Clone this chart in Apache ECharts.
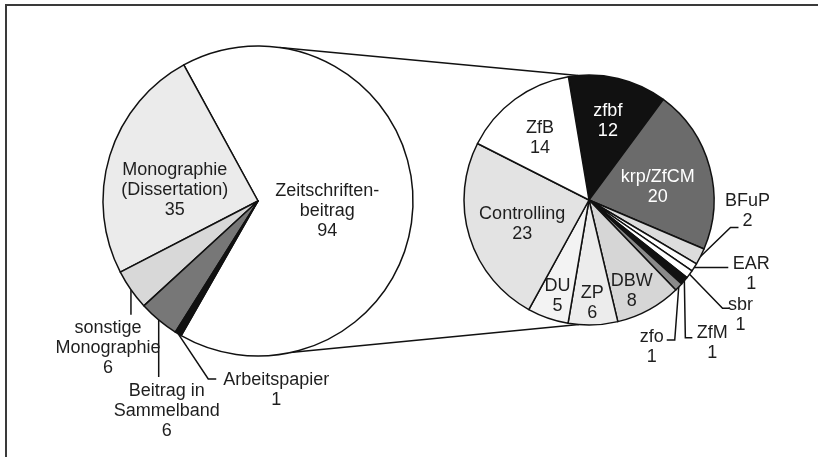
<!DOCTYPE html>
<html><head><meta charset="utf-8">
<script src="https://cdn.jsdelivr.net/npm/echarts@6/dist/echarts.min.js"></script>
<style>html,body{margin:0;padding:0;background:#fff}#c{width:818px;height:457px}</style>
</head><body><div id="c"></div>
<script>
// ---- data ----
const mainCategories = ['Zeitschriften-\nbeitrag', 'Monographie\n(Dissertation)', 'sonstige\nMonographie', 'Beitrag in\nSammelband', 'Arbeitspapier'];
const mainValues = [94, 35, 6, 6, 1];
const journalCategories = ['zfbf', 'krp/ZfCM', 'BFuP', 'EAR', 'sbr', 'ZfM', 'zfo', 'DBW', 'ZP', 'DU', 'Controlling', 'ZfB'];
const journalValues = [12, 20, 2, 1, 1, 1, 1, 8, 6, 5, 23, 14];

// ---- styles ----
const mainColors = ['#ffffff', '#ebebeb', '#d8d8d8', '#777777', '#111111'];
const journalColors = ['#111111', '#6b6b6b', '#dcdcdc', '#ffffff', '#ffffff', '#111111', '#8a8a8a', '#d6d6d6', '#ececec', '#f3f3f3', '#e3e3e3', '#ffffff'];
const journalTextColors = {0: '#ffffff', 1: '#ffffff'};
const FONT = '"Liberation Sans", Arial, sans-serif';

const geo = {
  main: {cx: 258, cy: 201, r: 155, start: 240.3, clockwise: false},
  journal: {cx: 589, cy: 200, r: 125, start: 99.5, clockwise: true}
};
// inside labels: [radius, angle tweak]
const mainInside = {0: [70, -7.5], 1: [84, 9.5]};
const journalInside = {0: [81, 0], 1: [70, -4.5], 7: [101, -3.6], 8: [103, 0], 9: [101, 1], 10: [71, 2.5], 11: [79, 2]};
// outside labels: leader offsets from edge point, label anchor offset
const mainOutside = {
  2: {pts: [[0, 25]], lx: -23, ly: 28},
  3: {pts: [[0, 57]], lx: 8, ly: 61},
  4: {pts: [[30, 45], [38, 45]], lx: 98, ly: 36}
};
const journalOutside = {
  2: {pts: [[30, -29], [38, -29]], lx: 47, ly: -25, va: 'bottom'},
  3: {pts: [[34, 0]], lx: 57, ly: -13},
  4: {pts: [[33, 34], [40, 34]], lx: 51, ly: 21},
  5: {pts: [[1, 57], [8, 57]], lx: 28, ly: 42},
  6: {pts: [[-4, 53], [-12, 53]], lx: -27, ly: 40}
};

function midAngle(values, i, g) {
  const sum = values.reduce((a, b) => a + b, 0);
  let cum = 0;
  for (let k = 0; k < i; k++) cum += values[k];
  const frac = (cum + values[i] / 2) / sum;
  return g.start + (g.clockwise ? -1 : 1) * 360 * frac;
}
function polar(g, rr, deg) {
  const a = deg * Math.PI / 180;
  return [g.cx + rr * Math.cos(a), g.cy - rr * Math.sin(a)];
}
function makeLayout(key, values, inside, outside) {
  return function (params) {
    const g = geo[key];
    const i = params.dataIndex;
    const mid = midAngle(values, i, g);
    if (inside[i]) {
      const p = polar(g, inside[i][0], mid + inside[i][1]);
      return {x: p[0], y: p[1], align: 'center', verticalAlign: 'middle'};
    }
    const s = outside[i];
    const e = polar(g, g.r, mid);
    const pts = [e].concat(s.pts.map(d => [e[0] + d[0], e[1] + d[1]]));
    return {x: e[0] + s.lx, y: e[1] + s.ly, align: 'center', verticalAlign: s.va || 'top', labelLinePoints: pts};
  };
}
function buildData(cats, vals, colors, inside, textColors) {
  return cats.map((c, i) => ({
    name: c,
    value: vals[i],
    itemStyle: {color: colors[i]},
    label: inside[i] ? {position: 'inside', color: (textColors && textColors[i]) || '#1e1e1e'} : {position: 'outside'},
    labelLine: {show: !inside[i]}
  }));
}

const labelBase = {show: true, formatter: '{b}\n{c}', fontFamily: FONT, fontSize: 18, lineHeight: 20, color: '#1e1e1e', align: 'center'};
const lineBase = {show: true, lineStyle: {color: '#111', width: 1.5}};

const mt = polar(geo.main, geo.main.r, 82), jt = polar(geo.journal, geo.journal.r, 95);
const mb = polar(geo.main, geo.main.r, -78), jb = polar(geo.journal, geo.journal.r, 265.4);

const chart = echarts.init(document.getElementById('c'), null, {renderer: 'canvas'});
chart.setOption({
  backgroundColor: '#ffffff',
  animation: false,
  graphic: [
    {type: 'rect', shape: {x: 6, y: 5, width: 840, height: 480}, style: {fill: 'none', stroke: '#3a3a3a', lineWidth: 2}, z: 0},
    {type: 'line', shape: {x1: mt[0], y1: mt[1], x2: jt[0], y2: jt[1]}, style: {stroke: '#111', lineWidth: 1.5}, z: 0},
    {type: 'line', shape: {x1: mb[0], y1: mb[1], x2: jb[0], y2: jb[1]}, style: {stroke: '#111', lineWidth: 1.5}, z: 0}
  ],
  series: [
    {
      type: 'pie', center: [geo.main.cx, geo.main.cy], radius: geo.main.r,
      startAngle: geo.main.start, clockwise: geo.main.clockwise,
      avoidLabelOverlap: false, silent: true,
      itemStyle: {borderColor: '#111', borderWidth: 1.5},
      label: labelBase, labelLine: lineBase,
      labelLayout: makeLayout('main', mainValues, mainInside, mainOutside),
      data: buildData(mainCategories, mainValues, mainColors, mainInside)
    },
    {
      type: 'pie', center: [geo.journal.cx, geo.journal.cy], radius: geo.journal.r,
      startAngle: geo.journal.start, clockwise: geo.journal.clockwise,
      avoidLabelOverlap: false, silent: true,
      itemStyle: {borderColor: '#111', borderWidth: 1.5},
      label: labelBase, labelLine: lineBase,
      labelLayout: makeLayout('journal', journalValues, journalInside, journalOutside),
      data: buildData(journalCategories, journalValues, journalColors, journalInside, journalTextColors)
    }
  ]
});
</script></body></html>
